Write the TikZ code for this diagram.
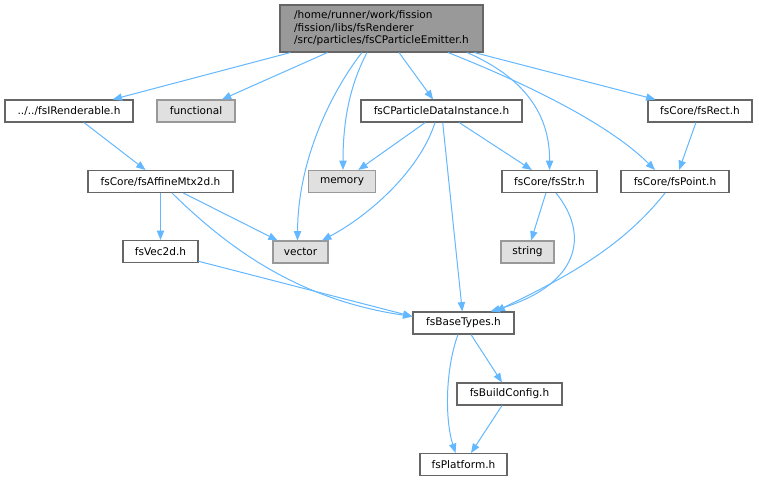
\documentclass[tikz,border=0pt]{standalone}
\usepackage{fontspec}
\setmainfont{DejaVu Sans}
\usetikzlibrary{arrows.meta,calc}
\definecolor{edgec}{HTML}{63B8FF}
\definecolor{bordc}{HTML}{666666}
\definecolor{extfill}{HTML}{E0E0E0}
\definecolor{extbord}{HTML}{999999}
\definecolor{topfill}{HTML}{999999}
\begin{document}
\begin{tikzpicture}[x=0.75pt,y=-0.75pt,
  nb/.style={draw=bordc, fill=white, line width=0.8pt, inner sep=0pt,
    minimum height=16.5pt, font=\fontsize{7.9}{9.4}\selectfont},
  ext/.style={nb, draw=extbord, fill=extfill},
  topn/.style={nb, fill=topfill, align=left, minimum height=35.25pt},
  e/.style={draw=edgec, line width=0.75pt, -{Triangle[length=7pt,width=5.5pt]}}]
\useasboundingbox (0,0) rectangle (759,481);
\fill[white] (0,0) rectangle (759,481);

\node[topn, minimum width=152.25pt] (top) at (381.5,28.5) {/home/runner/work/fission\\/fission/libs/fsRenderer\\/src/particles/fsCParticleEmitter.h};
\node[nb, minimum width=96pt] (ir) at (69,111) {../../fsIRenderable.h};
\node[ext, minimum width=58.5pt] (func) at (196,111) {functional};
\node[nb, minimum width=120.75pt] (cpdi) at (441.5,111) {fsCParticleDataInstance.h};
\node[nb, minimum width=78pt] (rect) at (700,111) {fsCore/fsRect.h};
\node[nb, minimum width=108.75pt] (aff) at (160.5,181.5) {fsCore/fsAffineMtx2d.h};
\node[ext, minimum width=50.25pt] (mem) at (342,181.5) {memory};
\node[nb, minimum width=71.25pt] (str) at (549.5,181.5) {fsCore/fsStr.h};
\node[nb, minimum width=81pt] (pt) at (675,181.5) {fsCore/fsPoint.h};
\node[nb, minimum width=56.25pt] (vec) at (160.5,251.5) {fsVec2d.h};
\node[ext, minimum width=41.25pt] (vector) at (300.5,252) {vector};
\node[ext, minimum width=39.75pt] (string) at (527.5,252) {string};
\node[nb, minimum width=75.75pt] (base) at (463.5,323) {fsBaseTypes.h};
\node[nb, minimum width=78.75pt] (build) at (509.5,394) {fsBuildConfig.h};
\node[nb, minimum width=65.25pt] (plat) at (463.5,464.5) {fsPlatform.h};

% from top
\draw[e] (top) -- (ir);
\draw[e] (top) -- (func);
\draw[e] ($(top.south)+(-19.5,0)$) .. controls (340,80) and (298,150) .. ($(vector.north)+(-3,0)$);
\draw[e] ($(top.south)+(-14.5,0)$) .. controls (350,85) and (343,120) .. ($(mem.north)+(1,0)$);
\draw[e] (top) -- (cpdi);
\draw[e] ($(top.south)+(85.5,0)$) .. controls (530,80) and (550,120) .. (str.north);
\draw[e] ($(top.south)+(66.5,0)$) .. controls (530,85) and (610,125) .. ($(pt.north)+(-20,0)$);
\draw[e] (top) -- (rect);

% others
\draw[e] (ir) -- (aff);
\draw[e] (aff) -- (vec);
\draw[e] (aff) -- (vector);
\draw[e] ($(aff.south)+(11.5,0)$) .. controls (230,250) and (300,300) .. ($(base.north west)+(0,5)$);
\draw[e] (cpdi) -- (mem);
\draw[e] ($(cpdi.south)+(-6.5,0)$) .. controls (420,170) and (370,215) .. ($(vector.north)+(21.5,0)$);
\draw[e] (cpdi) -- (base);
\draw[e] (cpdi) -- (str);
\draw[e] (rect) -- (pt);
\draw[e] (str) -- (string);
\draw[e] ($(str.south)+(6.5,0)$) .. controls (590,235) and (580,285) .. ($(base.north)+(27,0)$);
\draw[e] ($(pt.south)+(-10,0)$) .. controls (620,250) and (560,280) .. ($(base.north)+(32,0)$);
\draw[e] (vec) -- ($(base.north west)+(0,5)$);
\draw[e] (base) -- (build);
\draw[e] ($(base.south)+(-5.5,0)$) .. controls (445,370) and (445,420) .. ($(plat.north)+(-8,0)$);
\draw[e] (build) -- (plat);
\end{tikzpicture}
\end{document}
